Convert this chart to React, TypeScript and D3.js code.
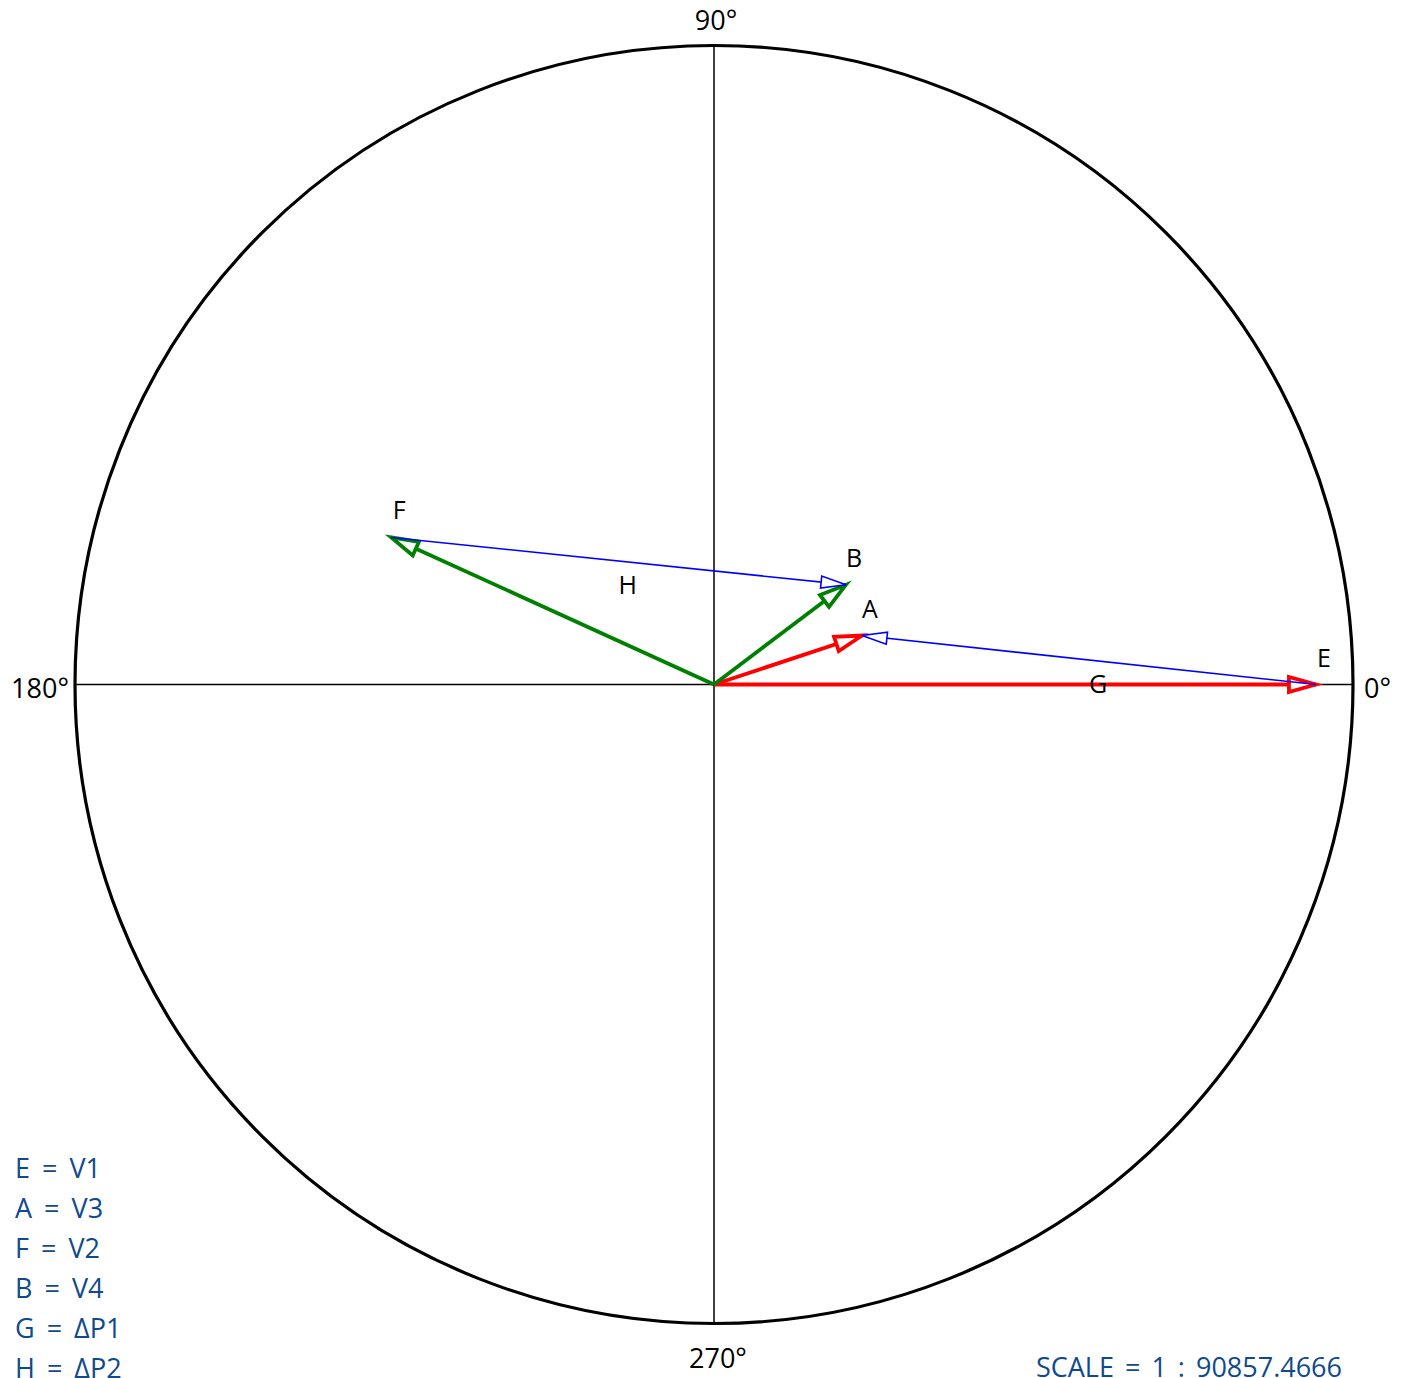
import React, { useEffect, useRef } from "react";
import * as d3 from "d3";

// phasors: magnitude in % of the outer circle, angle in degrees
const phasorNames = ["E", "A", "F", "B"];
const phasorMagnitudes = [94.2, 24.4, 55.5, 25.9];
const phasorAngles = [0, 18.3, 155.5, 37.1];

// difference vectors drawn between phasor tips
const diffNames = ["G", "H"];
const diffFrom = ["E", "F"];
const diffTo = ["A", "B"];

const axisAngles = [0, 90, 180, 270];
const axisLabels = ["0°", "90°", "180°", "270°"];

const legendLines = ["E = V1", "A = V3", "F = V2", "B = V4", "G = ΔP1", "H = ΔP2"];
const scaleLabel = "SCALE = 1 : 90857.4666";

const W = 1408;
const H = 1378;
const cx = 714;
const cy = 684.5;
const R = 639;
const FONT = "'Open Sans', 'Noto Sans', sans-serif";

export default function App() {
  const ref = useRef<SVGSVGElement>(null);

  useEffect(() => {
    const svg = d3.select(ref.current);
    svg.selectAll("*").remove();

    const r = d3.scaleLinear().domain([0, 100]).range([0, R]);
    const pos = (mag: number, deg: number): [number, number] => {
      const a = (deg * Math.PI) / 180;
      return [cx + r(mag) * Math.cos(a), cy - r(mag) * Math.sin(a)];
    };
    const tips: Record<string, [number, number]> = {};
    phasorNames.forEach((n, i) => (tips[n] = pos(phasorMagnitudes[i], phasorAngles[i])));

    // axes
    svg.append("g").selectAll("line")
      .data([0, 90])
      .enter().append("line")
      .attr("x1", d => pos(100, d)[0]).attr("y1", d => pos(100, d)[1])
      .attr("x2", d => pos(100, d + 180)[0]).attr("y2", d => pos(100, d + 180)[1])
      .attr("stroke", "#000").attr("stroke-width", 1.5);

    svg.append("circle")
      .attr("cx", cx).attr("cy", cy).attr("r", r(100))
      .attr("fill", "none").attr("stroke", "#000").attr("stroke-width", 3.2);

    // axis labels
    const labelPos = [
      { dx: 11, dy: 13, anchor: "start" },
      { dx: 2, dy: -16, anchor: "middle" },
      { dx: -6, dy: 13, anchor: "end" },
      { dx: 4, dy: 44, anchor: "middle" },
    ];
    svg.append("g").selectAll("text")
      .data(axisAngles)
      .enter().append("text")
      .attr("x", (d, i) => pos(100, d)[0] + labelPos[i].dx)
      .attr("y", (d, i) => pos(100, d)[1] + labelPos[i].dy)
      .attr("text-anchor", (d, i) => labelPos[i].anchor)
      .attr("font-family", FONT).attr("font-size", 27)
      .text((d, i) => axisLabels[i]);

    // arrow helper: line plus open triangular head
    const arrow = (p0: [number, number], p1: [number, number], color: string, sw: number, len: number, hw: number) => {
      const ang = Math.atan2(p1[1] - p0[1], p1[0] - p0[0]);
      const ux = Math.cos(ang), uy = Math.sin(ang);
      const bx = p1[0] - ux * len, by = p1[1] - uy * len;
      const g = svg.append("g");
      g.append("line")
        .attr("x1", p0[0]).attr("y1", p0[1]).attr("x2", p1[0]).attr("y2", p1[1])
        .attr("stroke", color).attr("stroke-width", sw);
      const head = d3.path();
      head.moveTo(p1[0], p1[1]);
      head.lineTo(bx - uy * hw, by + ux * hw);
      head.lineTo(bx + uy * hw, by - ux * hw);
      head.closePath();
      g.append("path").attr("d", head.toString())
        .attr("fill", "#fff").attr("stroke", color).attr("stroke-width", sw)
        .attr("stroke-linejoin", "miter");
    };

    const origin: [number, number] = [cx, cy];
    const phasorColor: Record<string, string> = { E: "#ff0000", A: "#ff0000", F: "#008000", B: "#008000" };

    phasorNames.forEach(n => arrow(origin, tips[n], phasorColor[n], 3.8, 27, 7.5));
    diffNames.forEach((n, i) => arrow(tips[diffFrom[i]], tips[diffTo[i]], "#0000ff", 1.6, 25, 6));

    // tip labels
    svg.append("g").selectAll("text")
      .data(phasorNames)
      .enter().append("text")
      .attr("x", d => tips[d][0] + 8)
      .attr("y", d => tips[d][1] - 18)
      .attr("text-anchor", "middle")
      .attr("font-family", FONT).attr("font-size", 25)
      .text(d => d);

    // difference labels at midpoints
    svg.append("g").selectAll("text")
      .data(diffNames)
      .enter().append("text")
      .attr("x", (d, i) => (tips[diffFrom[i]][0] + tips[diffTo[i]][0]) / 2 + 9)
      .attr("y", (d, i) => (tips[diffFrom[i]][1] + tips[diffTo[i]][1]) / 2 + 33)
      .attr("text-anchor", "middle")
      .attr("font-family", FONT).attr("font-size", 25)
      .text(d => d);

    // legend
    svg.append("g").selectAll("text")
      .data(legendLines)
      .enter().append("text")
      .attr("x", 15)
      .attr("y", (d, i) => 1178 + i * 40)
      .attr("fill", "#104a8c")
      .attr("font-family", FONT).attr("font-size", 27)
      .attr("word-spacing", 5)
      .text(d => d);

    svg.append("text")
      .attr("x", 1342).attr("y", 1377)
      .attr("text-anchor", "end")
      .attr("fill", "#104a8c")
      .attr("font-family", FONT).attr("font-size", 27)
      .attr("word-spacing", 4)
      .text(scaleLabel);
  }, []);

  return (
    <div style={{ position: "absolute", left: 0, top: 0 }}>
      <svg ref={ref} width={W} height={H} style={{ display: "block", background: "#fff" }} />
    </div>
  );
}
